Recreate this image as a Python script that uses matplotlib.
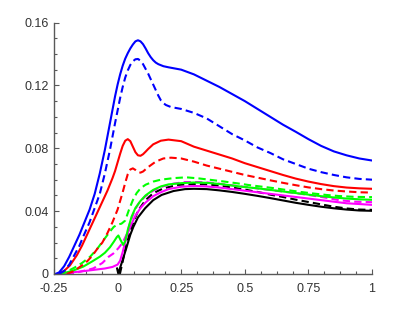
import numpy as np
import matplotlib
matplotlib.use("Agg")
from matplotlib import pyplot as plt
from matplotlib.ticker import MultipleLocator

plt.rcParams['font.family'] = ['Liberation Sans', 'DejaVu Sans']

# blue
blue_x = [-0.245, -0.23, -0.21, -0.19, -0.17, -0.15, -0.13, -0.11, -0.09, -0.07, -0.05, -0.03,
          -0.02, -0.01, 0.0, 0.01, 0.02, 0.03, 0.04, 0.05, 0.06, 0.07, 0.08, 0.09, 0.1, 0.11,
          0.12, 0.13, 0.14, 0.15, 0.16, 0.18, 0.2, 0.25, 0.3, 0.35, 0.4, 0.45, 0.5, 0.55, 0.6,
          0.65, 0.7, 0.75, 0.8, 0.85, 0.9, 0.95, 1.0]
blue_y = [0.0, 0.001, 0.005, 0.011, 0.018, 0.025, 0.033, 0.041, 0.051, 0.064, 0.079, 0.096,
          0.1045, 0.113, 0.1205, 0.127, 0.1325, 0.137, 0.1405, 0.1435, 0.146, 0.148, 0.1487,
          0.148, 0.1462, 0.1435, 0.1405, 0.138, 0.136, 0.1345, 0.1335, 0.1322, 0.1315, 0.130,
          0.127, 0.123, 0.119, 0.1145, 0.110, 0.105, 0.100, 0.095, 0.0905, 0.0858, 0.0815,
          0.078, 0.0755, 0.0735, 0.0722]
blue_d_x = [-0.23, -0.21, -0.19, -0.17, -0.15, -0.135, -0.11, -0.09, -0.07, -0.05, -0.03, -0.01,
            0.0, 0.01, 0.02, 0.03, 0.04, 0.05, 0.06, 0.07, 0.08, 0.09, 0.1, 0.11, 0.12, 0.13,
            0.14, 0.15, 0.16, 0.17, 0.18, 0.19, 0.21, 0.25, 0.3, 0.35, 0.4, 0.45, 0.5, 0.55, 0.6,
            0.65, 0.7, 0.75, 0.8, 0.85, 0.9, 0.95, 1.0]
blue_d_y = [0.0, 0.002, 0.006, 0.012, 0.018, 0.0238, 0.033, 0.042, 0.051, 0.064, 0.079, 0.096,
            0.104, 0.112, 0.119, 0.125, 0.1295, 0.133, 0.1353, 0.1366, 0.1368, 0.1357, 0.1335,
            0.1305, 0.1275, 0.124, 0.1205, 0.117, 0.1135, 0.1105, 0.1087, 0.1075, 0.1062,
            0.105, 0.1025, 0.099, 0.094, 0.089, 0.085, 0.0805, 0.077, 0.073, 0.070, 0.067,
            0.0648, 0.063, 0.0615, 0.0605, 0.060]

# red
red_x = [-0.235, -0.21, -0.187, -0.16, -0.14, -0.12, -0.1, -0.08, -0.06, -0.04, -0.02, -0.01,
         0.0, 0.01, 0.02, 0.03, 0.04, 0.05, 0.06, 0.07, 0.08, 0.09, 0.1, 0.11, 0.12, 0.14, 0.17,
         0.2, 0.25, 0.3, 0.35, 0.4, 0.45, 0.5, 0.55, 0.6, 0.65, 0.7, 0.75, 0.8, 0.85, 0.9, 0.95,
         1.0]
red_y = [0.0, 0.002, 0.0055, 0.012, 0.018, 0.025, 0.032, 0.039, 0.046, 0.053, 0.061, 0.0655,
         0.071, 0.0765, 0.0815, 0.0848, 0.0858, 0.0845, 0.081, 0.0775, 0.0755, 0.0752, 0.0762,
         0.0778, 0.0795, 0.0825, 0.0848, 0.0855, 0.0845, 0.081, 0.0785, 0.076, 0.0735, 0.0705,
         0.068, 0.0655, 0.063, 0.0607, 0.0588, 0.0572, 0.0559, 0.055, 0.0545, 0.0542]
red_d_x = [-0.2, -0.17, -0.14, -0.12, -0.1, -0.08, -0.06, -0.04, -0.02, 0.0, 0.01, 0.02, 0.03,
           0.04, 0.05, 0.06, 0.07, 0.08, 0.09, 0.1, 0.12, 0.15, 0.18, 0.21, 0.25, 0.3, 0.35, 0.4,
           0.45, 0.5, 0.55, 0.6, 0.65, 0.7, 0.75, 0.8, 0.85, 0.9, 0.95, 1.0]
red_d_y = [0.0, 0.002, 0.0055, 0.008, 0.0115, 0.016, 0.020, 0.026, 0.033, 0.041, 0.0465, 0.052,
           0.058, 0.0635, 0.0665, 0.0672, 0.0662, 0.0648, 0.0645, 0.0652, 0.068, 0.0715, 0.0735,
           0.074, 0.0735, 0.0715, 0.069, 0.067, 0.065, 0.063, 0.0613, 0.0596, 0.058, 0.0565,
           0.0551, 0.054, 0.0531, 0.0525, 0.052, 0.0518]

# green
green_x = [-0.23, -0.2, -0.17, -0.135, -0.1, -0.07, -0.05, -0.03, -0.015, -0.003, 0.003, 0.012,
           0.022, 0.03, 0.04, 0.055, 0.07, 0.09, 0.11, 0.14, 0.17, 0.2, 0.25, 0.3, 0.35, 0.4, 0.45,
           0.5, 0.55, 0.6, 0.65, 0.7, 0.75, 0.8, 0.85, 0.9, 0.95, 1.0]
green_y = [0.0, 0.001, 0.0025, 0.0047, 0.008, 0.011, 0.0135, 0.017, 0.0205, 0.0235, 0.0245, 0.0215,
           0.0185, 0.021, 0.028, 0.0365, 0.042, 0.0465, 0.050, 0.0535, 0.0557, 0.057, 0.0578,
           0.0582, 0.058, 0.0573, 0.0563, 0.0553, 0.0545, 0.0535, 0.0525, 0.0515, 0.0505, 0.0495,
           0.0487, 0.048, 0.0475, 0.0472]
green_d_x = [-0.23, -0.2, -0.17, -0.14, -0.108, -0.08, -0.05, -0.03, -0.015, 0.0, 0.015, 0.03,
             0.045, 0.06, 0.075, 0.09, 0.11, 0.14, 0.17, 0.22, 0.27, 0.32, 0.37, 0.42, 0.47, 0.52,
             0.57, 0.62, 0.67, 0.72, 0.77, 0.82, 0.87, 0.93, 1.0]
green_d_y = [0.0, 0.0015, 0.004, 0.007, 0.011, 0.016, 0.0227, 0.027, 0.030, 0.0315, 0.032, 0.034,
             0.041, 0.047, 0.0515, 0.0545, 0.0568, 0.0588, 0.060, 0.061, 0.0615, 0.0608, 0.0598,
             0.0588, 0.0577, 0.0565, 0.0555, 0.0545, 0.0533, 0.0522, 0.0512, 0.0503, 0.0496,
             0.0491, 0.0489]

# magenta
mag_x = [-0.23, -0.2, -0.15, -0.1, -0.05, -0.02, 0.0, 0.01, 0.02, 0.03, 0.04, 0.055, 0.07, 0.09,
         0.11, 0.14, 0.17, 0.2, 0.25, 0.3, 0.35, 0.4, 0.45, 0.5, 0.55, 0.6, 0.65, 0.7, 0.75, 0.8,
         0.85, 0.9, 0.95, 1.0]
mag_y = [0.0, 0.0008, 0.0015, 0.0025, 0.0035, 0.0045, 0.006, 0.0085, 0.014, 0.0205, 0.026, 0.032,
         0.037, 0.042, 0.0455, 0.0495, 0.052, 0.054, 0.0555, 0.056, 0.0557, 0.055, 0.054, 0.053,
         0.052, 0.051, 0.050, 0.049, 0.048, 0.047, 0.046, 0.045, 0.0445, 0.044]
mag_d_x = [-0.2, -0.16, -0.12, -0.095, -0.06, -0.035, -0.017, 0.003, 0.02, 0.035, 0.05, 0.068,
           0.085, 0.108, 0.14, 0.173, 0.22, 0.265, 0.32, 0.37, 0.42, 0.47, 0.52, 0.57, 0.62, 0.67,
           0.72, 0.77, 0.82, 0.87, 0.93, 1.0]
mag_d_y = [0.0, 0.001, 0.0025, 0.0036, 0.007, 0.011, 0.013, 0.0164, 0.020, 0.025, 0.033, 0.0408,
           0.0455, 0.0493, 0.053, 0.0555, 0.0575, 0.0585, 0.0585, 0.058, 0.057, 0.056, 0.055,
           0.054, 0.053, 0.052, 0.051, 0.0498, 0.0485, 0.047, 0.046, 0.0457]

# black
black_x = [-0.002, 0.003, 0.01, 0.02, 0.036, 0.05, 0.062, 0.08, 0.108, 0.14, 0.173, 0.22, 0.265,
           0.3, 0.35, 0.4, 0.45, 0.5, 0.55, 0.6, 0.65, 0.7, 0.75, 0.8, 0.85, 0.9, 0.95, 1.0]
black_y = [0.0035, 0.0, 0.004, 0.009, 0.0174, 0.025, 0.030, 0.036, 0.0418, 0.047, 0.0503, 0.0528,
           0.054, 0.0542, 0.054, 0.0532, 0.0522, 0.051, 0.0497, 0.0483, 0.0468, 0.0453, 0.044,
           0.0428, 0.0418, 0.041, 0.0404, 0.0402]
black_d_x = [0.009, 0.02, 0.035, 0.055, 0.081, 0.11, 0.14, 0.18, 0.238, 0.3, 0.35, 0.4, 0.45, 0.5,
             0.55, 0.6, 0.65, 0.7, 0.75, 0.8, 0.85, 0.9, 0.95, 1.0]
black_d_y = [0.0, 0.008, 0.019, 0.030, 0.0405, 0.047, 0.0514, 0.0545, 0.0567, 0.0572, 0.057,
             0.0562, 0.055, 0.0537, 0.0522, 0.0505, 0.049, 0.0473, 0.0458, 0.0443, 0.0428,
             0.0417, 0.041, 0.0408]

x_ticks = [-0.25, 0, 0.25, 0.5, 0.75, 1]
x_labels = ['-0.25', '0', '0.25', '0.5', '0.75', '1']
y_ticks = [0, 0.04, 0.08, 0.12, 0.16]
y_labels = ['0', '0.04', '0.08', '0.12', '0.16']

fig = plt.figure(figsize=(4.12, 3.09), dpi=100)
ax = fig.add_axes([54 / 412, 1 - 274 / 309, 318 / 412, 251.5 / 309])

lw = 1.5
dash = (3.5, 2.0)
ax.plot(black_x, black_y, color='black', lw=lw)
ax.plot(black_d_x, black_d_y, color='black', lw=lw, ls=(0, dash))
ax.plot(mag_x, mag_y, color='#ff00ff', lw=lw)
ax.plot(mag_d_x, mag_d_y, color='#ff00ff', lw=lw, ls=(0, dash))
ax.plot(green_x, green_y, color='#00ff00', lw=lw)
ax.plot(green_d_x, green_d_y, color='#00ff00', lw=lw, ls=(0, dash))
ax.plot(red_x, red_y, color='#ff0000', lw=lw)
ax.plot(red_d_x, red_d_y, color='#ff0000', lw=lw, ls=(0, dash))
ax.plot(blue_x, blue_y, color='#0000ff', lw=lw)
ax.plot(blue_d_x, blue_d_y, color='#0000ff', lw=lw, ls=(0, dash))

ax.set_xlim(-0.25, 1)
ax.set_ylim(0, 0.16)
ax.spines['top'].set_visible(False)
ax.spines['right'].set_visible(False)
for s in ['left', 'bottom']:
    ax.spines[s].set_color('0.35')
    ax.spines[s].set_linewidth(1.0)

ax.set_xticks(x_ticks)
ax.set_xticklabels(x_labels)
ax.set_yticks(y_ticks)
ax.set_yticklabels(y_labels)
ax.xaxis.set_minor_locator(MultipleLocator(0.0625))
ax.yaxis.set_minor_locator(MultipleLocator(0.01))
ax.tick_params(which='both', direction='in', colors='0.35', labelcolor='0.2', labelsize=9)
ax.tick_params(which='major', length=3.5, width=0.8)
ax.tick_params(which='minor', length=2, width=0.8)
ax.tick_params(axis='x', pad=6.5)
ax.tick_params(axis='y', pad=4)

fig.savefig('out.png', dpi=100)
